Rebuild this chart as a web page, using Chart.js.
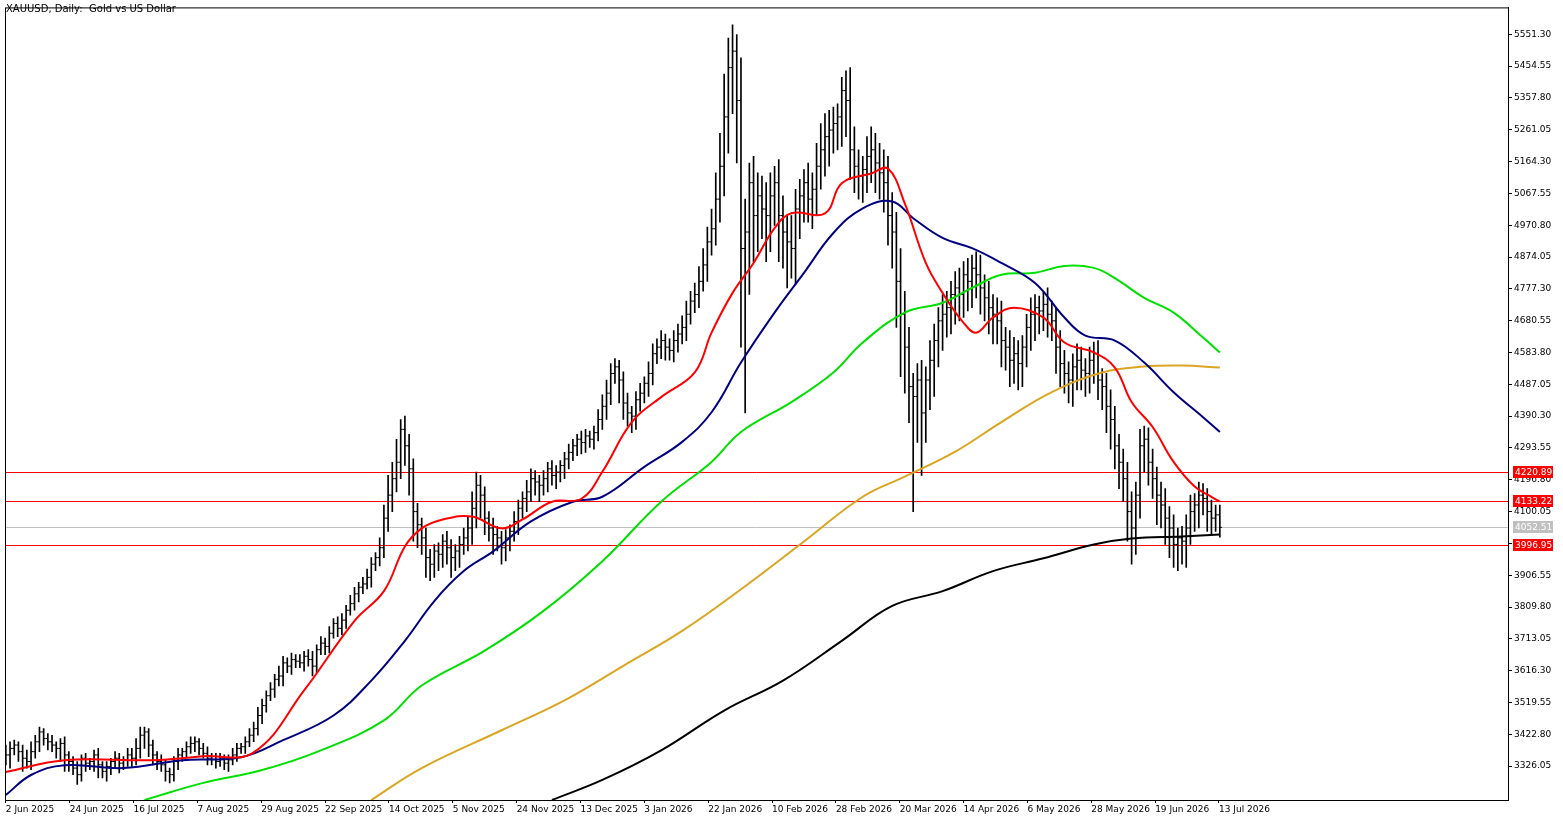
<!DOCTYPE html>
<html>
<head>
<meta charset="utf-8">
<script src="https://cdn.jsdelivr.net/npm/chart.js@4"></script>
<style>
  body { margin: 0; background: #fff; }
  #wrap { width: 1563px; height: 818px; position: relative; }
  #title { position: absolute; left: 6px; top: 3px; font: 10px "DejaVu Sans", sans-serif; color: #000; }
</style>
</head>
<body>
<div id="wrap">
  <canvas id="chart"></canvas>
  <div id="title">XAUUSD, Daily:&nbsp; Gold vs US Dollar</div>
</div>
<script>
// date labels every 15 bars
const dateLabels = ["2 Jun 2025", "24 Jun 2025", "16 Jul 2025", "7 Aug 2025", "29 Aug 2025", "22 Sep 2025",
  "14 Oct 2025", "5 Nov 2025", "24 Nov 2025", "13 Dec 2025", "3 Jan 2026", "22 Jan 2026", "10 Feb 2026",
  "28 Feb 2026", "20 Mar 2026", "14 Apr 2026", "6 May 2026", "28 May 2026", "19 Jun 2026", "13 Jul 2026"];

const closes = [
  3360,3380,3390,3370,3350,3340,3370,3400,3430,3410,
  3400,3390,3380,3395,3360,3340,3320,3300,3350,3335,
  3340,3360,3330,3310,3325,3340,3350,3335,3345,3360,
  3350,3380,3420,3430,3390,3360,3340,3330,3310,3300,
  3340,3360,3370,3385,3395,3400,3380,3365,3350,3355,
  3340,3350,3335,3345,3360,3380,3385,3400,3420,3440,
  3480,3510,3540,3560,3590,3600,3640,3630,3650,3645,
  3640,3660,3650,3630,3680,3700,3690,3730,3760,3745,
  3770,3800,3820,3850,3870,3880,3900,3940,3960,3990,
  4080,4150,4200,4250,4350,4300,4230,4100,4060,4020,
  3960,3940,3980,3970,4010,3990,3960,3980,4000,4020,
  4050,4110,4180,4150,4080,4050,4030,4020,3990,4020,
  4040,4070,4110,4140,4160,4200,4190,4180,4200,4230,
  4210,4220,4240,4260,4280,4300,4320,4310,4330,4320,
  4340,4380,4420,4460,4520,4540,4500,4430,4400,4390,
  4440,4460,4490,4520,4580,4600,4620,4600,4590,4620,
  4640,4660,4700,4740,4760,4800,4850,4920,4960,5050,
  5150,5300,5450,5500,5350,4900,4950,5100,5000,5060,
  5020,5000,5060,5100,5000,4950,4920,4900,5020,5060,
  5100,5050,5080,5150,5200,5240,5260,5280,5300,5380,
  5350,5200,5150,5120,5140,5180,5200,5160,5130,5100,
  5000,4950,4800,4700,4600,4480,4450,4500,4400,4500,
  4560,4620,4680,4700,4720,4760,4780,4760,4820,4800,
  4840,4820,4780,4750,4720,4700,4680,4620,4600,4560,
  4580,4550,4600,4660,4700,4720,4710,4730,4700,4680,
  4600,4550,4520,4500,4540,4560,4530,4520,4560,4580,
  4500,4480,4420,4380,4300,4250,4200,4100,4050,4150,
  4300,4320,4250,4200,4150,4120,4080,4050,4000,4020,
  4010,4050,4100,4120,4150,4140,4100,4080,4090,4052
];
const wickUp = [
  30,20,15,10,20,25,30,20,15,10, 15,20,10,15,20,10,15,20,10,15,
  10,15,20,10,15,10,20,15,10,20, 20,30,25,15,10,15,10,20,15,10,
  15,20,10,15,20,15,10,15,20,10, 10,15,10,15,20,15,10,15,20,20,
  25,20,15,20,15,30,20,15,20,15, 20,15,20,25,15,20,15,20,15,20,
  20,15,25,20,15,20,25,20,15,30, 40,60,50,70,30,40,35,30,25,20,
  30,25,20,25,20,30,25,20,25,30, 35,50,40,30,25,20,30,25,20,25,
  20,30,25,20,35,30,25,20,25,20, 25,20,15,20,25,20,15,25,20,15,
  20,30,35,40,30,25,20,25,30,20, 25,30,20,35,30,25,30,20,25,30,
  30,35,40,30,35,45,50,45,60,80, 100,130,90,80,50,130,100,60,80,70,
  60,80,70,50,70,60,50,80,60,50, 40,60,50,70,80,70,60,50,40,40,
  60,100,70,50,40,60,70,50,60,70, 80,70,60,100,70,60,40,50,60,40,
  60,50,40,60,50,40,50,60,40,50, 40,50,60,40,50,40,50,60,40,50,
  50,40,35,40,50,40,35,40,50,40, 40,50,40,35,40,50,40,35,40,35,
  40,35,40,50,40,35,40,50,60,40, 50,40,35,40,35,40,50,35,40,30,
  35,40,50,35,40,35,30,35,30,30
];
const wickDn = [
  30,40,20,30,40,20,25,20,30,20, 25,20,30,40,50,30,20,30,20,25,
  20,30,40,20,30,25,20,30,20,20, 25,20,30,40,35,30,25,20,30,25,
  20,25,20,15,20,25,20,15,20,20, 20,15,20,25,15,20,15,20,15,20,
  20,25,20,15,25,20,30,20,25,20, 15,25,20,30,20,15,25,20,15,25,
  20,25,15,20,25,20,15,30,20,25, 30,40,50,40,50,60,80,90,70,50,
  60,50,40,50,40,50,60,40,50,30, 40,50,60,70,50,40,60,40,50,40,
  40,30,40,30,40,30,40,50,30,40, 30,40,30,40,30,25,30,35,30,25,
  30,25,30,40,35,30,70,50,40,50, 40,35,30,40,35,30,35,40,30,35,
  35,30,40,30,35,40,30,50,40,50, 70,90,110,140,190,300,500,190,140,110,
  90,140,110,90,140,110,140,90,110,90, 80,70,90,80,70,80,90,70,80,90,
  110,90,80,70,80,70,80,90,80,90, 90,110,140,190,140,110,350,140,190,90,
  90,110,80,90,70,80,90,80,70,90, 80,70,80,70,80,90,70,80,70,80,
  70,80,70,60,70,80,70,60,70,60, 80,70,60,70,80,70,60,70,60,70,
  60,70,80,90,70,80,70,90,110,80, 70,80,70,60,90,70,80,90,70,80,
  70,80,50,60,70,50,60,50,40,30
];

// moving averages: bar index and price read at that bar
const redIdx = [0,14,35,47,59,71,83,90,95,99,104,111,118,123,130,137,142,149,156,164,168,173,178,183,187,195,199,206,210,214,219,223,228,231,235,240,247,252,259,264,268,273,278,283,287,289];
const redVal = [3308,3344,3344,3356,3368,3556,3768,3858,3994,4049,4076,4085,4049,4076,4130,4139,4221,4372,4448,4523,4644,4765,4856,4962,5007,5007,5098,5128,5143,5037,4856,4765,4674,4644,4690,4720,4690,4614,4584,4538,4433,4357,4251,4176,4145,4130];
const blueIdx = [0,6,14,28,42,56,66,78,87,95,102,109,116,125,135,142,152,161,168,175,183,190,197,204,211,216,223,230,237,245,252,257,264,271,278,285,289];
const blueVal = [3238,3299,3329,3320,3344,3353,3405,3480,3586,3707,3828,3919,3979,4070,4130,4145,4236,4312,4402,4553,4705,4826,4947,5022,5043,4992,4932,4901,4856,4795,4690,4635,4620,4553,4463,4387,4342];
const greenIdx = [33,47,61,75,90,99,114,128,142,156,168,175,187,197,204,214,223,230,237,245,252,259,264,271,278,285,289];
const greenVal = [3223,3275,3314,3374,3465,3571,3677,3798,3949,4130,4251,4342,4433,4523,4614,4705,4735,4780,4820,4826,4847,4841,4810,4750,4705,4629,4584];
const orangeIdx = [87,99,118,133,147,161,176,190,204,214,226,237,249,261,271,280,289];
const orangeVal = [3223,3320,3435,3526,3631,3737,3873,4009,4145,4206,4282,4372,4463,4523,4541,4544,4538];
const blackIdx = [130,142,156,171,185,199,211,223,235,247,259,268,280,289];
const blackVal = [3223,3284,3374,3495,3586,3707,3813,3858,3919,3958,4000,4018,4024,4030];

const levelVal = [4220.89, 4133.22, 4052.51, 3996.95];
const levelColor = ["#ff0000", "#ff0000", "#c0c0c0", "#ff0000"];

const yTicks = [];
for (let k = 0; k < 24; k++) yTicks.push(+(3326.05 + k * 96.75).toFixed(2));

const bars = [], opens = [], closePts = [];
closes.forEach((c, i) => {
  const o = i === 0 ? c : closes[i - 1];
  const hi = Math.max(o, c) + wickUp[i];
  const lo = Math.min(o, c) - wickDn[i];
  bars.push({ x: i, y: [lo, hi] });
  opens.push({ x: i - 0.25, y: o });
  closePts.push({ x: i + 0.25, y: c });
});

const pts = (idx, val) => idx.map((x, i) => ({ x: x, y: val[i] }));
const maLine = (idx, val, color) => ({
  type: "line", data: pts(idx, val), borderColor: color, borderWidth: 2,
  pointRadius: 0, tension: 0.4, order: 0
});

const overlay = {
  id: "overlay",
  beforeDatasetsDraw(chart) {
    const { ctx, chartArea: a, scales: { y } } = chart;
    ctx.save();
    levelVal.forEach((v, i) => {
      const py = Math.round(y.getPixelForValue(v)) + 0.5;
      ctx.strokeStyle = levelColor[i];
      ctx.lineWidth = 1;
      ctx.beginPath(); ctx.moveTo(a.left, py); ctx.lineTo(a.right, py); ctx.stroke();
    });
    ctx.restore();
  },
  afterDraw(chart) {
    const { ctx, chartArea: a, scales: { y } } = chart;
    ctx.save();
    ctx.strokeStyle = "#000"; ctx.lineWidth = 1;
    ctx.strokeRect(a.left + 0.5, a.top + 0.5, a.right - a.left, a.bottom - a.top);
    ctx.font = "9px 'DejaVu Sans', sans-serif";
    ctx.textBaseline = "middle";
    levelVal.forEach((v, i) => {
      const py = Math.round(y.getPixelForValue(v));
      ctx.fillStyle = levelColor[i];
      ctx.fillRect(a.right + 5, py - 6, 40, 12);
      ctx.fillStyle = "#fff";
      ctx.fillText(v.toFixed(2), a.right + 7, py + 0.5);
    });
    ctx.restore();
  }
};

new Chart(document.getElementById("chart"), {
  type: "bar",
  data: {
    datasets: [
      maLine(redIdx, redVal, "#ff0000"),
      maLine(blueIdx, blueVal, "#000080"),
      maLine(greenIdx, greenVal, "#00e000"),
      maLine(orangeIdx, orangeVal, "#daa520"),
      maLine(blackIdx, blackVal, "#000000"),
      { type: "bar", data: bars, backgroundColor: "#000", barThickness: 1, grouped: false, order: 2 },
      { type: "line", data: opens, showLine: false, pointStyle: "line", pointRadius: 1, borderColor: "#000", borderWidth: 1, order: 2 },
      { type: "line", data: closePts, showLine: false, pointStyle: "line", pointRadius: 1, borderColor: "#000", borderWidth: 1, order: 2 }
    ]
  },
  options: {
    responsive: true,
    maintainAspectRatio: false,
    animation: false,
    layout: { padding: { left: 2, top: 2, right: 0, bottom: 0 } },
    plugins: { legend: { display: false }, tooltip: { enabled: false } },
    scales: {
      x: {
        type: "linear", min: -0.2, max: 357.6, offset: false,
        afterBuildTicks: s => { s.ticks = dateLabels.map((_, k) => ({ value: k * 15.2 })); },
        afterFit: s => { s.height = 18; },
        ticks: {
          callback: (v) => dateLabels[Math.round(v / 15.2)],
          align: "start", maxRotation: 0, autoSkip: false, padding: 1,
          color: "#000", font: { family: "DejaVu Sans", size: 9 }
        },
        grid: { drawOnChartArea: false, tickLength: 3, color: "#000", offset: false },
        border: { color: "#000" }
      },
      y: {
        position: "right", min: 3223, max: 5633,
        afterBuildTicks: s => { s.ticks = yTicks.map(v => ({ value: v })); },
        afterFit: s => { s.width = 55; },
        ticks: {
          callback: v => v.toFixed(2), padding: 2,
          color: "#000", font: { family: "DejaVu Sans", size: 9 }
        },
        grid: { drawOnChartArea: false, tickLength: 4, color: "#000" },
        border: { color: "#000" }
      }
    }
  },
  plugins: [overlay]
});
</script>
</body>
</html>
